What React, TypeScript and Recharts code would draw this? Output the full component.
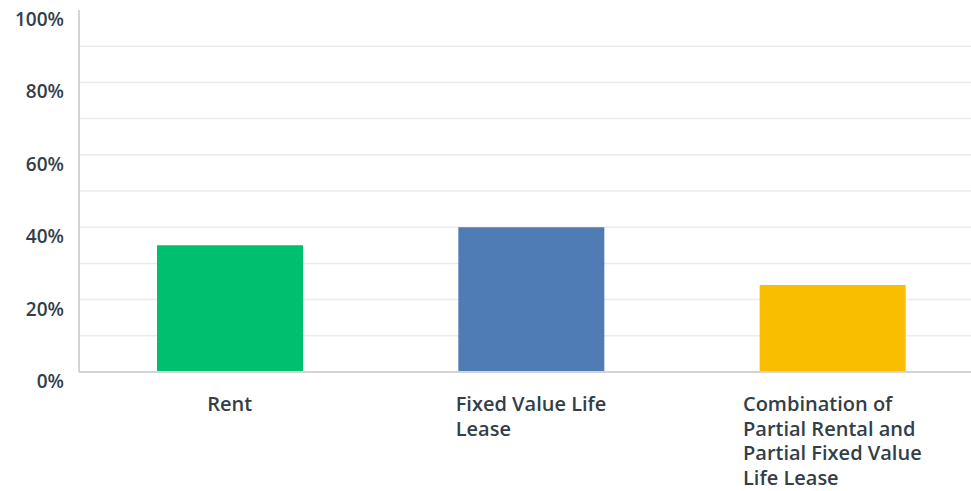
import React from 'react';
import { Bar, BarChart, CartesianGrid, Cell, XAxis, YAxis } from 'recharts';

const categories = [
  'Rent',
  'Fixed Value Life Lease',
  'Combination of Partial Rental and Partial Fixed Value Life Lease',
];
const values = [35, 40, 24];
const barColors = ['#00bf6f', '#507cb6', '#f9be00'];
const tickLines = [
  ['Rent'],
  ['Fixed Value Life', 'Lease'],
  ['Combination of', 'Partial Rental and', 'Partial Fixed Value', 'Life Lease'],
];
const yTicks = [0, 20, 40, 60, 80, 100];
const gridValues = [10, 20, 30, 40, 50, 60, 70, 80, 90];

const data = categories.map((name, i) => ({ name, value: values[i] }));

const FONT = '"Open Sans", sans-serif';
const TEXT = '#333e48';

let ctx: CanvasRenderingContext2D | null = null;
function measure(s: string) {
  if (!ctx) ctx = document.createElement('canvas').getContext('2d');
  if (!ctx) return s.length * 10;
  ctx.font = `600 20px ${FONT}`;
  return ctx.measureText(s).width;
}

function XTick(props: any) {
  const { x, y, index } = props;
  const lines = tickLines[index] || [String(props.payload?.value)];
  const w = Math.max(...lines.map(measure));
  return (
    <text x={x - w / 2} y={y + 39} textAnchor="start" fill={TEXT} fontSize={20} fontWeight={600} fontFamily={FONT}>
      {lines.map((l, i) => (
        <tspan key={i} x={x - w / 2} dy={i === 0 ? 0 : 24.7}>
          {l}
        </tspan>
      ))}
    </text>
  );
}

function YTick(props: any) {
  const { x, y, payload } = props;
  return (
    <text x={x - 1} y={y + 16} textAnchor="end" fill={TEXT} fontSize={19} fontWeight={600} fontFamily={FONT}>
      {payload.value}%
    </text>
  );
}

export default function App() {
  return (
    <div style={{ position: 'absolute', left: 0, top: 0, width: 971, height: 491, overflow: 'hidden', background: '#fff' }}>
      <BarChart width={983} height={491} data={data} margin={{ top: 10, right: 0, bottom: 0, left: 0 }}>
        <CartesianGrid vertical={false} horizontalValues={gridValues} stroke="#ebebeb" strokeWidth={1.5} />
        <XAxis
          dataKey="name"
          height={119}
          interval={0}
          tickLine={false}
          tickSize={0}
          tickMargin={0}
          axisLine={{ stroke: '#d3d3d3', strokeWidth: 2 }}
          tick={<XTick />}
        />
        <YAxis
          width={79}
          domain={[0, 100]}
          ticks={yTicks}
          tickLine={false}
          tickSize={0}
          tickMargin={14}
          axisLine={{ stroke: '#d3d3d3', strokeWidth: 2 }}
          tick={<YTick />}
        />
        <Bar dataKey="value" barSize={146} isAnimationActive={false}>
          {data.map((d, i) => (
            <Cell key={d.name} fill={barColors[i]} />
          ))}
        </Bar>
      </BarChart>
    </div>
  );
}
